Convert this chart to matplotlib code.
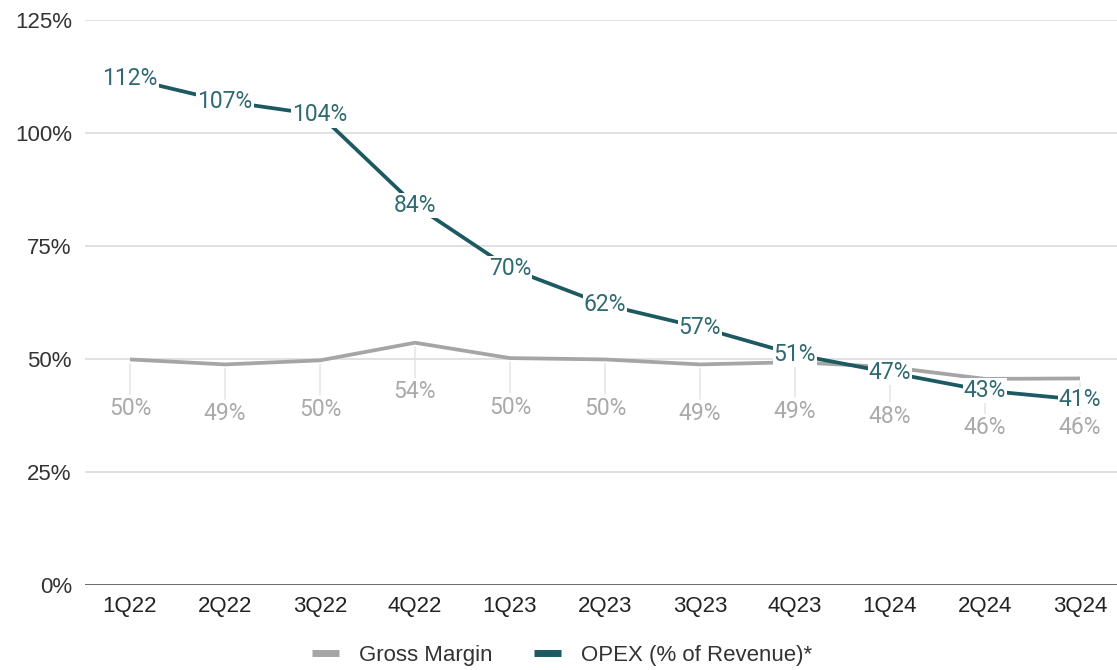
import matplotlib
matplotlib.use("Agg")
import matplotlib.pyplot as plt
from matplotlib.lines import Line2D

quarters = ["1Q22", "2Q22", "3Q22", "4Q22", "1Q23", "2Q23", "3Q23", "4Q23", "1Q24", "2Q24", "3Q24"]
gross_margin = [49.9, 48.8, 49.7, 53.6, 50.2, 49.9, 48.8, 49.3, 48.2, 45.6, 45.7]
opex = [112, 107, 104, 84, 70, 62, 57, 51, 47, 43, 41]
y_ticks = [0, 25, 50, 75, 100, 125]

GRAY = "#a5a5a5"
GRAY_TXT = "#aaaaaa"
TEAL = "#1c5961"
TEAL_TXT = "#2f6a72"
TICK_FONT = ["Liberation Sans", "DejaVu Sans"]
LABEL_FONT = ["Roboto", "DejaVu Sans"]

fig = plt.figure(figsize=(11.17, 6.70), dpi=100)
ax = fig.add_axes([85 / 1117, 85 / 670, 1 - 85 / 1117, (585 - 20) / 670])

x = list(range(len(quarters)))

ax.plot(x, gross_margin, color=GRAY, lw=2.7, zorder=3, solid_capstyle="butt")
ax.plot(x, opex, color=TEAL, lw=2.7, zorder=4, solid_capstyle="butt")

# gross margin labels under the line, with a thin leader
for xi, v in zip(x, gross_margin):
    ax.annotate(f"{v:.0f}%", xy=(xi, v), xytext=(0, -49), textcoords="offset pixels",
                ha="center", va="center", fontsize=16.5, color=GRAY_TXT,
                family=LABEL_FONT, zorder=5,
                arrowprops=dict(arrowstyle="-", color="#e2e2e2", lw=1,
                                shrinkA=0, shrinkB=3))

# opex labels sit on the points, masking the line
for xi, v in zip(x, opex):
    ax.text(xi, v, f"{v:.0f}%", ha="center", va="center", fontsize=16.5,
            color=TEAL_TXT, family=LABEL_FONT, zorder=6,
            bbox=dict(boxstyle="square,pad=0.05", fc="white", ec="none"))

ax.set_xlim(-45 / 95, 10 + 37 / 95)
ax.set_ylim(0, 125)
ax.set_yticks(y_ticks)
ax.set_yticklabels([f"{t}%" for t in y_ticks])
ax.set_xticks(x)
ax.set_xticklabels(quarters)
ax.tick_params(axis="y", length=0, pad=9.5, labelsize=16, labelcolor="#333333")
ax.tick_params(axis="x", length=0, pad=8, labelsize=16, labelcolor="#222222")
for lab in ax.get_xticklabels() + ax.get_yticklabels():
    lab.set_family(TICK_FONT)

for t in y_ticks[1:]:
    ax.axhline(t, color="#d9d9d9", lw=1.1, zorder=1)
ax.axhline(0, color="#6a6a6a", lw=1.4, zorder=2)
for s in ax.spines.values():
    s.set_visible(False)

handles = [Line2D([], [], color=GRAY, lw=5, solid_capstyle="butt"),
           Line2D([], [], color=TEAL, lw=5, solid_capstyle="butt")]
fig.legend(handles, ["Gross Margin", "OPEX (% of Revenue)*"], loc="center",
           bbox_to_anchor=(562 / 1117, 1 - 655 / 670), ncol=2, frameon=False,
           handlelength=1.2, handletextpad=0.9, columnspacing=1.9,
           prop={"family": TICK_FONT, "size": 16})
for t in fig.legends[0].get_texts():
    t.set_color("#333333")

fig.savefig("out.png", dpi=100, facecolor="white")
